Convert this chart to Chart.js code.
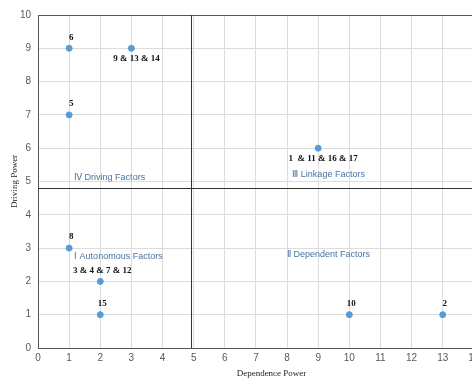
<!DOCTYPE html>
<html>
<head>
<meta charset="utf-8">
<script src="https://cdn.jsdelivr.net/npm/chart.js@4.4.0/dist/chart.umd.min.js"></script>
<style>
	html, body { margin: 0; padding: 0; background: #fff; overflow: hidden; }
	#box { width: 520px; height: 381px; }
</style>
</head>
<body>
<div id="box"><canvas id="micmac" width="520" height="381"></canvas></div>
<script>
// factor positions (dependence, driving) and their labels
var dependence = [1, 3, 1, 9, 1, 2, 2, 10, 13];
var driving = [9, 9, 7, 6, 3, 2, 1, 1, 1];
var factor_labels = ['6', '9 & 13 & 14', '5', '1  & 11 & 16 & 17', '8', '3 & 4 & 7 & 12', '15', '10', '2'];
var label_place = ['above', 'below', 'above', 'below', 'above', 'above', 'above', 'above', 'above'];

// quadrant split and names
var split_x = 4.9;
var split_y = 4.8;
var quadrant_names = ['\u2163 Driving Factors', '\u2162 Linkage Factors', '\u2160 Autonomous Factors', '\u2161 Dependent Factors'];
var quadrant_x = [1.16, 8.17, 1.16, 8.0];
var quadrant_y = [5.13, 5.2, 2.74, 2.8];

var x_max = 15;
var y_max = 10;

var points = [];
for (var i = 0; i < dependence.length; i++)
	points.push({x: dependence[i], y: driving[i]});

var overlay = {
	id: 'overlay',
	afterDatasetsDraw: function(chart)
	{
		var ctx = chart.ctx;
		var xs = chart.scales.x;
		var ys = chart.scales.y;
		var area = chart.chartArea;
		ctx.save();
		// frame: top line
		ctx.strokeStyle = '#555';
		ctx.lineWidth = 1;
		ctx.beginPath();
		ctx.moveTo(area.left, Math.round(area.top) + 0.5);
		ctx.lineTo(area.right, Math.round(area.top) + 0.5);
		ctx.stroke();
		// quadrant dividers
		ctx.strokeStyle = '#333';
		ctx.beginPath();
		var px = Math.round(xs.getPixelForValue(split_x)) + 0.5;
		ctx.moveTo(px, area.top);
		ctx.lineTo(px, area.bottom);
		var py = Math.round(ys.getPixelForValue(split_y)) + 0.5;
		ctx.moveTo(area.left, py);
		ctx.lineTo(area.right, py);
		ctx.stroke();
		// quadrant names
		ctx.fillStyle = '#4a72a0';
		ctx.font = '9px "Liberation Sans", Arial, sans-serif';
		ctx.textAlign = 'left';
		ctx.textBaseline = 'middle';
		for (var q = 0; q < quadrant_names.length; q++)
			ctx.fillText(quadrant_names[q], xs.getPixelForValue(quadrant_x[q]), ys.getPixelForValue(quadrant_y[q]));
		// point labels
		ctx.fillStyle = '#111';
		ctx.font = 'bold 9px "Liberation Serif", "Times New Roman", serif';
		ctx.textAlign = 'center';
		for (var k = 0; k < points.length; k++)
		{
			var lx = xs.getPixelForValue(dependence[k]);
			var ly = ys.getPixelForValue(driving[k]);
			if (label_place[k] == 'above')
				ctx.fillText(factor_labels[k], lx + 2, ly - 11);
			else
				ctx.fillText(factor_labels[k], lx + 5, ly + 10);
		}
		ctx.restore();
	}
};

var ctx = document.getElementById('micmac').getContext('2d');
var chart = new Chart(ctx, {
	type: 'scatter',
	data: {
		datasets: [{
			data: points,
			backgroundColor: '#5b9bd5',
			borderColor: '#5b9bd5',
			pointRadius: 3,
			pointHoverRadius: 3
		}]
	},
	options: {
		responsive: false,
		animation: false,
		layout: { padding: { top: 15, right: 15 } },
		plugins: { legend: { display: false }, tooltip: { enabled: false } },
		scales: {
			x: {
				type: 'linear',
				min: 0,
				max: x_max,
				afterFit: function(scale) { scale.height = 33; },
				ticks: { stepSize: 1, color: '#595959', font: { family: '"Liberation Sans", Arial, sans-serif', size: 10 }, padding: 4 },
				grid: { color: '#dcdcdc', drawTicks: false },
				border: { color: '#555', width: 1 },
				title: { display: true, text: 'Dependence Power', color: '#222', font: { family: '"Liberation Serif", "Times New Roman", serif', size: 9 }, padding: { top: 0, bottom: 2 } }
			},
			y: {
				type: 'linear',
				min: 0,
				max: y_max,
				afterFit: function(scale) { scale.width = 38; },
				ticks: { stepSize: 1, color: '#595959', font: { family: '"Liberation Sans", Arial, sans-serif', size: 10 }, padding: 7 },
				grid: { color: '#dcdcdc', drawTicks: false },
				border: { color: '#555', width: 1 },
				title: { display: true, text: 'Driving Power', color: '#222', font: { family: '"Liberation Serif", "Times New Roman", serif', size: 9 }, padding: { top: 9, bottom: 0 } }
			}
		}
	},
	plugins: [overlay]
});
</script>
</body>
</html>
